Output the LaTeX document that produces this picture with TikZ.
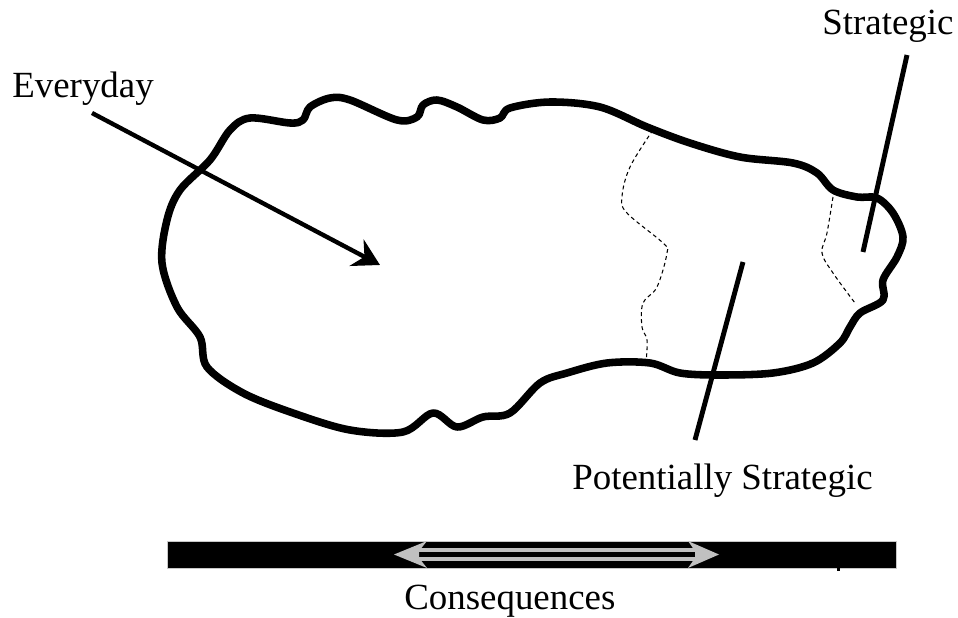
\documentclass[tikz,border=0pt]{standalone}
\usepackage{fontspec}
\setmainfont{Liberation Serif}
\usetikzlibrary{arrows.meta}
\definecolor{arrowgray}{RGB}{192,192,192}
\definecolor{bordergray}{RGB}{200,200,200}
\tikzset{
  lbl/.style={font=\fontsize{21}{24}\selectfont, inner sep=0pt, anchor=base west},
  outline/.style={line width=4.3pt, line join=round},
  leader/.style={line width=2.8pt},
  pointer/.style={line width=2.5pt, -{Stealth[length=15pt, width=17pt, inset=5pt]}},
  zone/.style={line width=0.6pt, dash pattern=on 2.2pt off 1.8pt},
  grayhead/.style={fill=arrowgray, draw=none},
}
\begin{document}
\begin{tikzpicture}[x=0.02cm, y=-0.02cm]
\useasboundingbox (0,0) rectangle (958,618);
\fill[white] (0,0) rectangle (958,618);

% blob outline
\draw[outline] plot[smooth cycle, tension=0.55] coordinates {
(250,118) (290,123) (303,120) (310,107) (330,98) (350,100) (397,120) (417,117)
(423,105) (437,100) (457,107) (483,120) (500,118) (510,108) (550,102) (600,107)
(647,127) (690,143) (740,157) (793,163) (817,173) (833,190) (857,197) (877,198)
(893,213) (903,237) (897,257) (883,280) (883,300) (860,313) (850,327) (840,343)
(813,363) (773,373) (720,375) (680,373) (650,363) (607,363) (567,373) (540,383)
(510,413) (483,417) (457,427) (433,413) (403,432) (350,430) (293,413) (243,393)
(207,367) (200,337) (177,307) (162,263) (167,220) (180,190) (210,160) (230,130)};

% dashed zone borders
\draw[zone] plot[smooth, tension=0.6] coordinates {
(653,130) (630,167) (622,197) (627,213) (663,243) (667,253) (657,287) (643,303)
(642,327) (647,340) (646,363)};
\draw[zone] plot[smooth, tension=0.6] coordinates {
(833,197) (827,233) (822,253) (833,273) (855,303)};

% labels
\node[lbl] (everyday) at (12,98) {Everyday};
\node[lbl] (strategic) at (822,35) {Strategic};
\node[lbl] (potential) at (572,490) {Potentially Strategic};
\node[lbl] (conseq) at (404,610) {Consequences};

% leader lines
\coordinate (evA) at (92,113);
\coordinate (evB) at (380,265);
\draw[pointer] (evA) -- (evB);
\coordinate (stA) at (907,55);
\coordinate (stB) at (863,252);
\draw[leader] (stA) -- (stB);
\coordinate (psA) at (743,262);
\coordinate (psB) at (695,440);
\draw[leader] (psA) -- (psB);

% consequences bar
\node[draw=bordergray, fill=black, line width=0.6pt, minimum width=729*0.02cm,
      minimum height=27*0.02cm, inner sep=0pt, anchor=north west] (bar) at (167,541) {};
\fill[black] (837,567) rectangle (840,571);
\coordinate (shL) at (419,554.5);
\coordinate (shR) at (695,554.5);
\draw[draw=arrowgray, double=black, double distance=3pt, line width=2.1pt] (shL) -- (shR);
\fill[grayhead] (394,554.5) -- (427,541) -- (419,551) -- (419,558) -- (427,568) -- cycle;
\fill[grayhead] (719,554.5) -- (688,541) -- (695,551) -- (695,558) -- (688,568) -- cycle;
\end{tikzpicture}
\end{document}
